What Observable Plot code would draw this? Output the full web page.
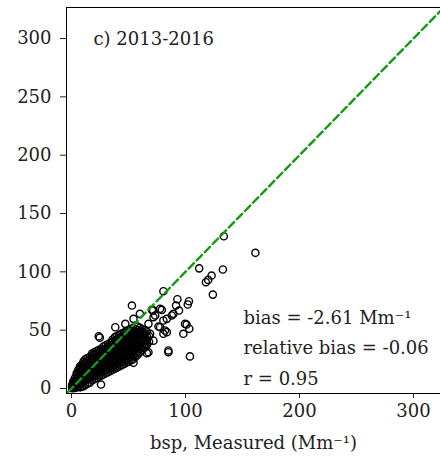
<!DOCTYPE html>
<html>
<head>
<meta charset="utf-8">
<script src="https://cdn.jsdelivr.net/npm/d3@7"></script>
<script src="https://cdn.jsdelivr.net/npm/@observablehq/plot@0.6"></script>
<style>
  html, body { margin: 0; padding: 0; background: #fff; }
  #chart { width: 440px; height: 461px; }
</style>
</head>
<body>
<div id="chart"></div>
<script>
// ---- data ----
const panelLabel = "c) 2013-2016";
const xLabel = "bsp, Measured (Mm\u207B\u00B9)";
const statsLines = ["bias = -2.61 Mm\u207B\u00B9", "relative bias = -0.06", "r = 0.95"];
const xTicks = [0, 100, 200, 300];
const yTicks = [0, 50, 100, 150, 200, 250, 300];
const xDomain = [-4.39, 323.7];
const yDomain = [-4.29, 326.6];
const oneToOne = [-10, 340];

// dense cloud: measured value per column and the modelled values seen in it
const cloudX = [0.5, 1.5, 3, 4.5, 6, 7.5, 9, 10.5, 12, 14, 16, 18, 20, 22, 24, 26, 28, 30, 32, 34,
  36, 38, 40, 42, 44, 46, 48, 50, 52, 54, 56, 58, 60, 62, 64, 66, 68];
const cloudY = [
  [0.2, 1.5, 3],
  [0.5, 2.5, 4.5, 6],
  [0.5, 2, 4, 6.5, 9],
  [1, 3, 5.5, 8, 11, 13],
  [1.5, 4, 7, 10, 13, 16],
  [1, 5, 8, 11, 14, 17, 19],
  [1.5, 5.5, 8.5, 11.5, 14.5, 17.5, 20],
  [2, 6, 9, 12, 15, 18, 21, 23],
  [3, 7, 10, 13, 16, 19, 22, 25],
  [4, 8, 11, 14, 17, 20, 23, 26],
  [5, 9, 12, 15, 18, 21, 24, 27],
  [7, 10, 13, 16, 19, 22, 25, 28, 30],
  [8, 11, 14, 17, 20, 23, 26, 29, 31],
  [9, 12, 15, 18, 21, 24, 27, 30, 32],
  [10, 13, 16, 19, 22, 25, 28, 31, 33],
  [11, 14, 17, 20, 23, 26, 29, 32, 34],
  [12, 15, 18, 21, 24, 27, 30, 33, 36],
  [13, 16, 19, 22, 25, 28, 31, 34, 37],
  [14, 17, 20, 23, 26, 29, 32, 35, 38],
  [15, 18, 21, 24, 27, 30, 33, 36, 39],
  [16, 19, 22, 25, 28, 31, 34, 37, 40, 42],
  [17, 20, 23, 26, 29, 32, 35, 38, 41, 44],
  [18, 21, 24, 27, 30, 33, 36, 39, 42, 45],
  [19, 22, 25, 28, 31, 34, 37, 40, 43, 46],
  [20, 23, 26, 29, 32, 35, 38, 41, 44, 47],
  [21, 24, 27, 30, 33, 36, 39, 42, 45, 48],
  [22, 25, 28, 31, 34, 37, 40, 43, 46, 49],
  [23, 26, 29, 32, 35, 38, 41, 44, 47, 50],
  [24, 27, 30, 33, 36, 39, 42, 45, 48, 51],
  [25, 28, 31, 34, 37, 40, 43, 46, 49, 52],
  [27, 30, 33, 36, 39, 42, 45, 48, 51],
  [29, 32, 35, 38, 41, 44, 47, 50, 53],
  [31, 34, 37, 40, 43, 46, 49, 52],
  [33, 36, 39, 42, 45, 48, 51],
  [35, 38, 41, 44, 47, 50],
  [37, 41, 45, 49],
  [40, 45]
];

// scattered points outside the cloud
const outlierX = [133.6, 161.3, 112, 132.8, 122.9, 119.9, 117.9, 124, 80.6, 92.9, 103, 91.7, 102,
  70.5, 79.2, 89.4, 94.3, 71.9, 80.6, 76.3, 101, 103.3, 98.1, 82, 85, 71.9, 103.9, 66.1, 54.4,
  38.4, 23.9, 24.8, 25.9, 53, 66, 80.6, 88, 73.4, 77.7, 83.6, 77.7, 99.6, 83.6, 67.5, 69, 67.5,
  47.2, 54.4, 57.4, 45.7, 60, 71.6, 85];
const outlierY = [130.5, 116.3, 103, 102, 96.8, 93.1, 91.1, 80.5, 83.4, 76.5, 74.8, 71.1, 72,
  67.4, 67.4, 64, 66.8, 61.1, 58.3, 53.1, 54.8, 51.2, 46.9, 49.7, 32.6, 41, 27.5, 30.3, 22,
  52.5, 44.8, 43.6, 3.4, 71.1, 38, 46.9, 62.6, 62.6, 68.3, 59.7, 52.5, 55.4, 48.3, 55.4, 46.9, 31.1,
  55.4, 59.7, 35.4, 44, 64, 67, 31.1];

// ---- build tables ----
const points = [];
cloudX.forEach((x, i) => cloudY[i].forEach(y => points.push({x, y})));
outlierX.forEach((x, i) => points.push({x, y: outlierY[i]}));
const diag = oneToOne.map(v => ({x: v, y: v}));

const font = "'DejaVu Serif', 'Liberation Serif', serif";
const fs = 18;

const chart = Plot.plot({
  width: 440,
  height: 461,
  marginLeft: 66,
  marginRight: 0,
  marginTop: 7,
  marginBottom: 68,
  style: {fontFamily: font, fontSize: fs + "px", background: "#fff", color: "#222"},
  x: {domain: xDomain, label: null},
  y: {domain: yDomain, label: null},
  marks: [
    Plot.dot(points, {x: "x", y: "y", r: 3.6, stroke: "#000", strokeWidth: 1.4, fill: "none", clip: true}),
    Plot.line(diag, {x: "x", y: "y", stroke: "#139a13", strokeWidth: 2.4, strokeDasharray: "7.5,4", clip: true}),
    Plot.ruleX([xDomain[0]], {stroke: "#000", strokeWidth: 1}),
    Plot.ruleY([yDomain[0], yDomain[1]], {stroke: "#000", strokeWidth: 1}),
    Plot.axisX({ticks: xTicks, tickSize: 5, tickPadding: 6, fontSize: fs, fontFamily: font, fill: "#222", label: null}),
    Plot.axisY({ticks: yTicks, tickSize: 6, tickPadding: 9, fontSize: fs, fontFamily: font, fill: "#222", label: null}),
    Plot.text([panelLabel], {frameAnchor: "top-left", dx: 27, dy: 25, textAnchor: "start", fontSize: fs, fontFamily: font, fill: "#222"}),
    Plot.text([statsLines.join("\n")], {frameAnchor: "bottom-left", dx: 177, dy: -9, lineAnchor: "bottom", lineHeight: 1.67, textAnchor: "start", fontSize: fs, fontFamily: font, fill: "#222"}),
    Plot.text([xLabel], {frameAnchor: "bottom", dy: 55, textAnchor: "middle", fontSize: fs, fontFamily: font, fill: "#222"})
  ]
});
document.getElementById("chart").appendChild(chart);
</script>
</body>
</html>
